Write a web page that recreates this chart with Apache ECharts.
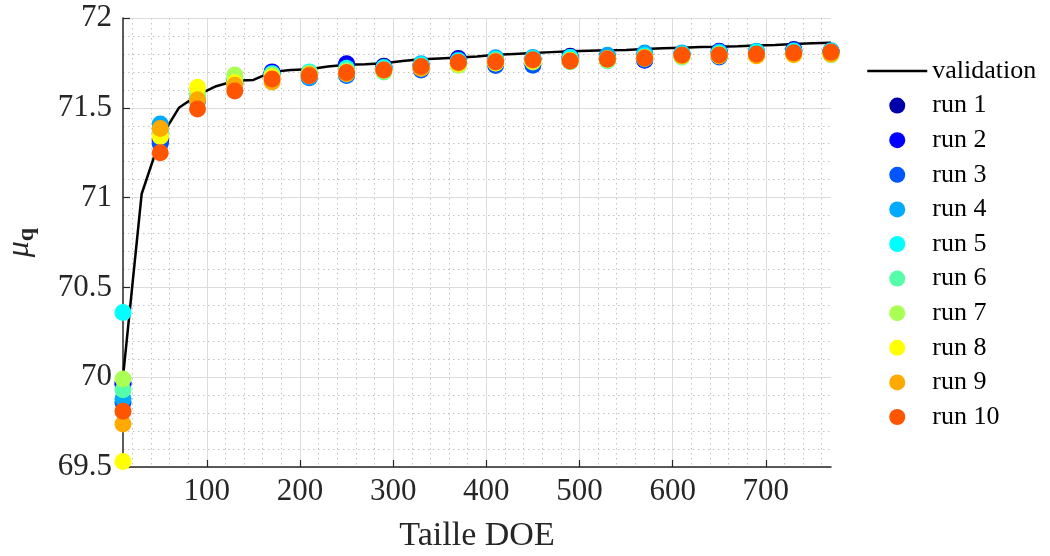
<!DOCTYPE html>
<html>
<head>
<meta charset="utf-8">
<script src="https://cdn.jsdelivr.net/npm/echarts@6/dist/echarts.min.js"></script>
<style>html,body{margin:0;padding:0;background:#fff;}#c{width:1050px;height:556px;}</style>
</head>
<body>
<div id="c"></div>
<script>
// DOE sizes for the runs
const sizes = [10, 50, 90, 130, 170, 210, 250, 290, 330, 370, 410, 450, 490, 530, 570, 610, 650, 690, 730, 770];
// validation curve
const validationX = [10, 30, 50, 70, 90, 110, 130, 150, 170, 190, 210, 230, 250, 270, 290, 310, 330, 350, 370, 390,
  410, 430, 450, 470, 490, 510, 530, 550, 570, 590, 610, 630, 650, 670, 690, 710, 730, 750, 770];
const validationY = [70.00, 71.02, 71.33, 71.50, 71.57, 71.62, 71.65, 71.655, 71.70, 71.71, 71.715, 71.73, 71.74, 71.742, 71.748, 71.76, 71.77, 71.775, 71.78, 71.785,
  71.795, 71.80, 71.805, 71.81, 71.815, 71.818, 71.82, 71.822, 71.828, 71.832, 71.835, 71.838, 71.84, 71.843, 71.847, 71.85, 71.855, 71.86, 71.862];
// runs
const run1  = [69.96, 71.31, 71.55, 71.64, 71.695, 71.69, 71.742, 71.732, 71.74, 71.775, 71.77, 71.775, 71.787, 71.785, 71.795, 71.80, 71.81, 71.81, 71.824, 71.815];
const run2  = [69.97, 71.32, 71.56, 71.65, 71.70, 71.68, 71.745, 71.725, 71.735, 71.77, 71.765, 71.77, 71.78, 71.78, 71.765, 71.795, 71.815, 71.805, 71.82, 71.81];
const run3  = [69.86, 71.30, 71.54, 71.63, 71.685, 71.668, 71.68, 71.715, 71.71, 71.75, 71.735, 71.737, 71.77, 71.77, 71.768, 71.79, 71.783, 71.80, 71.81, 71.81];
const run4  = [69.88, 71.41, 71.55, 71.64, 71.69, 71.67, 71.685, 71.72, 71.745, 71.765, 71.778, 71.78, 71.78, 71.793, 71.805, 71.805, 71.81, 71.815, 71.818, 71.818];
const run5  = [70.36, 71.37, 71.56, 71.65, 71.69, 71.70, 71.72, 71.725, 71.74, 71.76, 71.77, 71.775, 71.78, 71.762, 71.79, 71.80, 71.805, 71.81, 71.815, 71.815];
const run6  = [69.93, 71.36, 71.57, 71.66, 71.685, 71.695, 71.71, 71.70, 71.73, 71.74, 71.76, 71.76, 71.756, 71.77, 71.78, 71.783, 71.79, 71.795, 71.80, 71.796];
const run7  = [69.99, 71.35, 71.58, 71.683, 71.68, 71.69, 71.70, 71.705, 71.72, 71.737, 71.75, 71.755, 71.76, 71.765, 71.775, 71.785, 71.79, 71.795, 71.80, 71.797];
const run8  = [69.53, 71.34, 71.615, 71.64, 71.67, 71.68, 71.70, 71.71, 71.725, 71.745, 71.75, 71.76, 71.765, 71.77, 71.78, 71.79, 71.795, 71.79, 71.796, 71.80];
const run9  = [69.74, 71.385, 71.545, 71.625, 71.644, 71.685, 71.69, 71.71, 71.72, 71.75, 71.76, 71.765, 71.76, 71.775, 71.78, 71.79, 71.79, 71.79, 71.797, 71.80];
const run10 = [69.81, 71.25, 71.494, 71.594, 71.66, 71.678, 71.696, 71.71, 71.73, 71.754, 71.755, 71.767, 71.76, 71.77, 71.776, 71.794, 71.794, 71.80, 71.807, 71.81];
const runs = [run1, run2, run3, run4, run5, run6, run7, run8, run9, run10];
const runNames = ['run 1', 'run 2', 'run 3', 'run 4', 'run 5', 'run 6', 'run 7', 'run 8', 'run 9', 'run 10'];
const runColors = ['#0000AA', '#0000FF', '#0055FF', '#00AAFF', '#00FFFF', '#55FFAA', '#AAFF55', '#FFFF00', '#FFAA00', '#FF5500'];
// tick labels
const xTicks = [100, 200, 300, 400, 500, 600, 700];
const yTicks = [69.5, 70, 70.5, 71, 71.5, 72];

const FONT = 'Liberation Serif';
const chart = echarts.init(document.getElementById('c'), null, {renderer: 'canvas'});

const series = [{
  name: 'validation',
  type: 'line',
  data: validationX.map((x, i) => [x, validationY[i]]),
  symbol: 'none',
  showSymbol: false,
  lineStyle: {color: '#000', width: 2.5},
  itemStyle: {color: '#000'},
  clip: false,
  z: 2
}];
runs.forEach((r, k) => {
  series.push({
    name: runNames[k],
    type: 'scatter',
    data: sizes.map((x, i) => [x, r[i]]),
    symbol: 'circle',
    symbolSize: 17,
    itemStyle: {color: runColors[k], opacity: 1},
    clip: false,
    z: 3
  });
});

chart.setOption({
  animation: false,
  backgroundColor: '#fff',
  textStyle: {fontFamily: FONT},
  grid: {left: 123, right: 219, top: 18, bottom: 89, containLabel: false, outerBoundsMode: 'none'},
  xAxis: {
    type: 'value',
    min: 10, max: 770, splitNumber: 8,
    name: 'Taille DOE',
    nameLocation: 'middle',
    nameGap: 52,
    nameTextStyle: {fontFamily: FONT, fontSize: 34, color: '#262626'},
    axisLine: {show: true, onZero: false, lineStyle: {color: '#262626', width: 1.5}},
    axisTick: {show: true, inside: true, length: 7, customValues: xTicks, lineStyle: {color: '#262626', width: 1.2}},
    axisLabel: {fontFamily: FONT, fontSize: 31, color: '#262626', margin: 9, customValues: xTicks},
    splitLine: {show: true, lineStyle: {color: '#dcdcdc', width: 1}},
    minorTick: {show: false, splitNumber: 5},
    minorSplitLine: {show: true, lineStyle: {color: '#c4c4c4', width: 1, type: [1.5, 3.5]}}
  },
  yAxis: {
    type: 'value',
    min: 69.5, max: 72, interval: 0.5,
    name: '{mu|μ}{q|q}',
    nameLocation: 'middle',
    nameGap: 84,
    nameRotate: 90,
    nameTextStyle: {
      color: '#262626',
      rich: {
        mu: {fontFamily: FONT, fontStyle: 'italic', fontSize: 32, color: '#262626'},
        q: {fontFamily: FONT, fontWeight: 'bold', fontSize: 24, color: '#262626', padding: [14, 0, 0, 0]}
      }
    },
    axisLine: {show: true, lineStyle: {color: '#262626', width: 1.5}},
    axisTick: {show: true, inside: true, length: 7, lineStyle: {color: '#262626', width: 1.2}},
    axisLabel: {fontFamily: FONT, fontSize: 31, color: '#262626', margin: 11, formatter: v => (yTicks.indexOf(v) >= 0 ? String(v) : '')},
    splitLine: {show: true, lineStyle: {color: '#dcdcdc', width: 1}},
    minorTick: {show: false, splitNumber: 5},
    minorSplitLine: {show: true, lineStyle: {color: '#c4c4c4', width: 1, type: [1.5, 3.5]}}
  },
  legend: {
    orient: 'vertical',
    left: 866,
    top: 58,
    padding: 0,
    itemWidth: 60,
    itemHeight: 16,
    itemGap: 8.6,
    textStyle: {fontFamily: FONT, fontSize: 26, color: '#000'},
    data: [{name: 'validation', itemStyle: {opacity: 0}, lineStyle: {color: '#000', width: 2.5}}]
      .concat(runNames.map(n => ({name: n, icon: 'circle'})))
  },
  series: series
});
</script>
</body>
</html>
